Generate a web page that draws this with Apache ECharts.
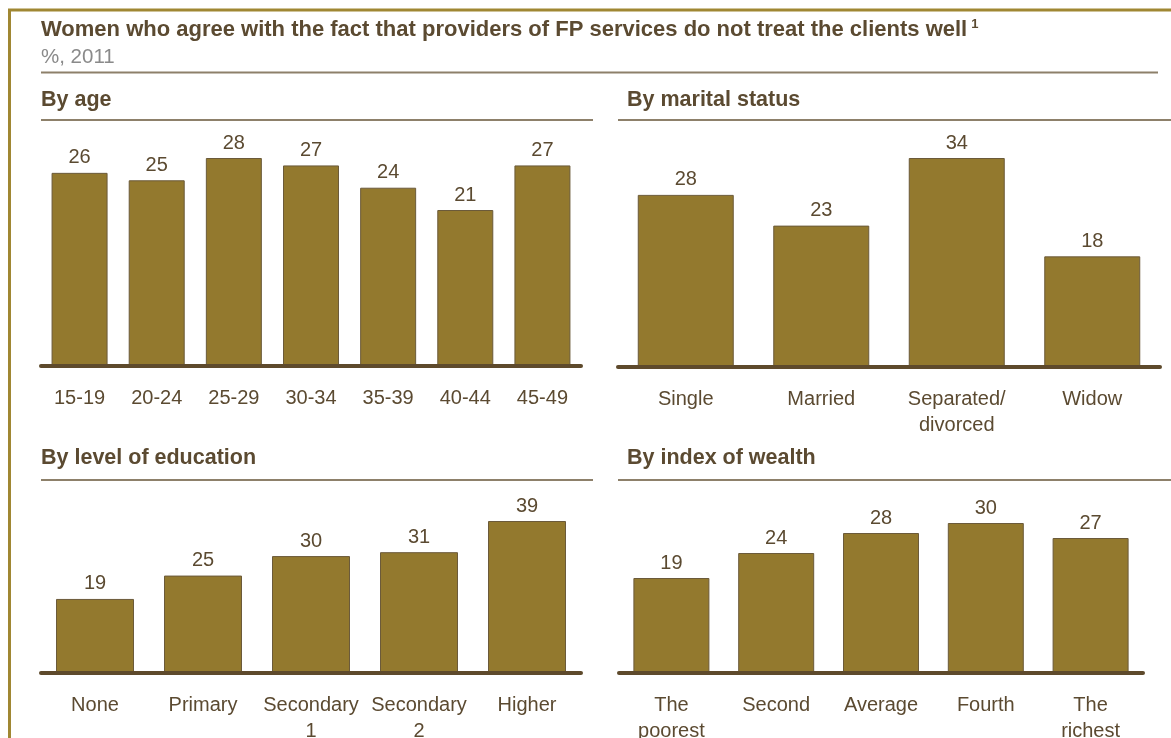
<!DOCTYPE html>
<html>
<head>
<meta charset="utf-8">
<title>FP services survey</title>
<script src="https://cdn.jsdelivr.net/npm/echarts@6/dist/echarts.min.js"></script>
<style>
  html, body { margin: 0; padding: 0; background: #ffffff; }
  #chart { width: 1171px; height: 738px; }
</style>
</head>
<body>
<div id="chart"></div>
<script>
// ---- data -------------------------------------------------------------
const ageCats = ['15-19', '20-24', '25-29', '30-34', '35-39', '40-44', '45-49'];
const ageVals = [26, 25, 28, 27, 24, 21, 27];

const maritalCats = ['Single', 'Married', 'Separated/\ndivorced', 'Widow'];
const maritalVals = [28, 23, 34, 18];

const eduCats = ['None', 'Primary', 'Secondary\n1', 'Secondary\n2', 'Higher'];
const eduVals = [19, 25, 30, 31, 39];

const wealthCats = ['The\npoorest', 'Second', 'Average', 'Fourth', 'The\nrichest'];
const wealthVals = [19, 24, 28, 30, 27];

const mainTitle = 'Women who agree with the fact that providers of FP services do not treat the clients well';
const subTitle = '%, 2011';

// ---- styling ----------------------------------------------------------
const H = 738;
const FONT = '"Liberation Sans", Arial, Helvetica, sans-serif';
const TEXT = '#5b4a31';
const BAR = '#93792e';
const BAR_EDGE = '#6b5a3a';
const RULE = '#8d806a';
const BASE = '#5e4a2c';
const FRAME = '#a08733';

// panel layout: plot extents, header position and rule extents
const panels = [
  { head: 'By age', cats: ageCats, vals: ageVals,
    x0: 41, x1: 581, top: 158, base: 366, barW: 56,
    headX: 41, headTop: 89, ruleY: 120, ruleX0: 41, ruleX1: 593 },
  { head: 'By marital status', cats: maritalCats, vals: maritalVals,
    x0: 618, x1: 1160, top: 158, base: 367, barW: 96,
    headX: 627, headTop: 89, ruleY: 120, ruleX0: 618, ruleX1: 1171 },
  { head: 'By level of education', cats: eduCats, vals: eduVals,
    x0: 41, x1: 581, top: 521, base: 673, barW: 78,
    headX: 41, headTop: 447, ruleY: 480, ruleX0: 41, ruleX1: 593 },
  { head: 'By index of wealth', cats: wealthCats, vals: wealthVals,
    x0: 619, x1: 1143, top: 523, base: 673, barW: 76,
    headX: 627, headTop: 447, ruleY: 480, ruleX0: 618, ruleX1: 1171 }
];

function hLine(x0, x1, y, color, width, cap) {
  return {
    type: 'line', z: 100, silent: true,
    shape: { x1: x0, y1: y, x2: x1, y2: y },
    style: { stroke: color, lineWidth: width, lineCap: cap || 'butt' }
  };
}

const grids = [], xAxes = [], yAxes = [], series = [];
const graphics = [
  // frame (top and left edges)
  hLine(8, 1171, 10, FRAME, 3),
  { type: 'line', z: 100, silent: true,
    shape: { x1: 9.5, y1: 9, x2: 9.5, y2: H },
    style: { stroke: FRAME, lineWidth: 3 } },
  // title block
  { type: 'text', z: 100, left: 41, top: 18,
    style: {
      text: '{t|' + mainTitle + '}{s|1}',
      rich: {
        t: { fontFamily: FONT, fontSize: 22, fontWeight: 'bold', fill: TEXT },
        s: { fontFamily: FONT, fontSize: 13, fontWeight: 'bold', fill: TEXT, padding: [0, 0, 10, 4] }
      }
    } },
  { type: 'text', z: 100, left: 41, top: 47,
    style: { text: subTitle, fontFamily: FONT, fontSize: 20.5, fill: '#8a8a8a' } },
  hLine(41, 1158, 72.5, RULE, 2)
];

panels.forEach((p, i) => {
  grids.push({
    left: p.x0, width: p.x1 - p.x0, top: p.top, bottom: H - p.base,
    containLabel: false, outerBoundsMode: 'none'
  });
  xAxes.push({
    type: 'category', gridIndex: i, data: p.cats,
    axisLine: { show: false }, axisTick: { show: false }, splitLine: { show: false },
    axisLabel: { interval: 0, color: TEXT, fontFamily: FONT, fontSize: 20, lineHeight: 26, margin: 19 }
  });
  yAxes.push({ type: 'value', gridIndex: i, min: 0, max: Math.max.apply(null, p.vals), show: false });
  series.push({
    type: 'bar', xAxisIndex: i, yAxisIndex: i, data: p.vals, barWidth: p.barW,
    itemStyle: { color: BAR, borderColor: BAR_EDGE, borderWidth: 1 },
    label: { show: true, position: 'top', distance: 5, color: TEXT, fontFamily: FONT, fontSize: 20 },
    emphasis: { disabled: true }, animation: false
  });
  graphics.push({
    type: 'text', z: 100, left: p.headX, top: p.headTop,
    style: { text: p.head, fontFamily: FONT, fontSize: 21.5, fontWeight: 'bold', fill: TEXT }
  });
  graphics.push(hLine(p.ruleX0, p.ruleX1, p.ruleY, RULE, 2));
  graphics.push(hLine(p.x0, p.x1, p.base, BASE, 4, 'round'));
});

const chart = echarts.init(document.getElementById('chart'), null, { renderer: 'canvas' });
chart.setOption({
  animation: false,
  backgroundColor: '#ffffff',
  grid: grids,
  xAxis: xAxes,
  yAxis: yAxes,
  series: series,
  graphic: graphics
});
</script>
</body>
</html>
